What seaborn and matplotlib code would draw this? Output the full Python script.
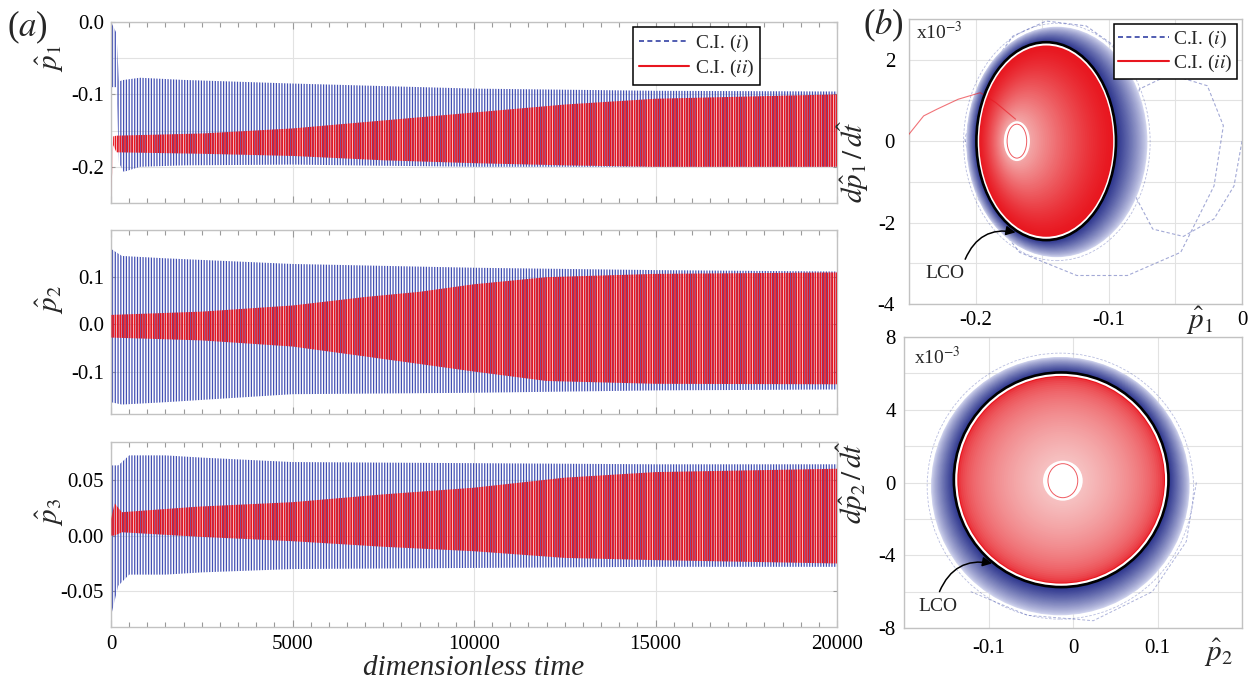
import matplotlib
matplotlib.use("Agg")
import numpy as np
import pandas as pd
import matplotlib.pyplot as plt
import matplotlib.colors as mcolors
from matplotlib.patches import Ellipse
from matplotlib.lines import Line2D
from matplotlib.ticker import MultipleLocator
import seaborn as sns

# ---------------- data ----------------
# (a) envelopes of the oscillating time series, C.I.(i) (blue) and C.I.(ii) (red)
t1_i = [0, 150, 220, 350, 800, 2000, 5000, 10000, 15000, 20000]
p1_i_hi = [0.0, -0.015, -0.082, -0.080, -0.077, -0.080, -0.085, -0.092, -0.095, -0.096]
p1_i_lo = [-0.09, -0.09, -0.195, -0.207, -0.200, -0.198, -0.197, -0.200, -0.200, -0.200]
t1_ii = [0, 60, 150, 2500, 5000, 7500, 10000, 12500, 15000, 20000]
p1_ii_hi = [-0.25, -0.158, -0.157, -0.154, -0.147, -0.136, -0.125, -0.114, -0.106, -0.100]
p1_ii_lo = [-0.25, -0.170, -0.180, -0.182, -0.185, -0.191, -0.195, -0.198, -0.200, -0.200]

t2_i = [0, 300, 1500, 5000, 10000, 15000, 20000]
p2_i_hi = [0.160, 0.145, 0.140, 0.128, 0.120, 0.115, 0.112]
p2_i_lo = [-0.165, -0.170, -0.165, -0.148, -0.145, -0.140, -0.138]
t2_ii = [0, 2500, 5000, 7000, 8500, 10000, 12000, 15000, 20000]
p2_ii_hi = [0.020, 0.027, 0.040, 0.058, 0.069, 0.085, 0.100, 0.107, 0.110]
p2_ii_lo = [-0.028, -0.034, -0.047, -0.068, -0.084, -0.100, -0.120, -0.126, -0.127]

t3_i = [0, 200, 500, 1500, 2500, 5000, 10000, 15000, 20000]
p3_i_hi = [0.063, 0.063, 0.072, 0.072, 0.070, 0.066, 0.065, 0.064, 0.064]
p3_i_lo = [-0.072, -0.045, -0.035, -0.035, -0.033, -0.030, -0.029, -0.028, -0.028]
t3_ii = [0, 100, 300, 2400, 5000, 7500, 10000, 12500, 15000, 20000]
p3_ii_hi = [0.015, 0.029, 0.021, 0.026, 0.030, 0.037, 0.043, 0.052, 0.057, 0.060]
p3_ii_lo = [0.000, 0.000, 0.003, -0.001, -0.005, -0.010, -0.014, -0.020, -0.022, -0.025]

# (b) phase portraits (velocity in units of 1e-3)
lco1_center = [-0.147, 0.0];  lco1_semi = [0.0524, 2.43]
ring1_center = [-0.139, -0.02]; ring1_semi = [0.068, 2.83]
hole1_center = [-0.169, 0.0]; hole1_semi = [0.0098, 0.49]
trans1_i_p = [0.0, -0.006, -0.021, -0.044, -0.067, -0.079, -0.086, -0.077, -0.054, -0.026, -0.014,
              -0.021, -0.046, -0.086, -0.124, -0.167, -0.198, -0.208, -0.195, -0.172, -0.147, -0.117, -0.089]
trans1_i_v = [0.0, -1.10, -1.91, -2.34, -2.16, -1.42, 0.0, 1.28, 1.64, 1.36, 0.38,
              -1.10, -2.73, -3.30, -3.30, -2.73, -1.42, 0.05, 1.53, 2.58, 2.95, 2.83, 2.18]
trans1_ii_p = [-0.251, -0.239, -0.229, -0.213, -0.1965, -0.185, -0.170]
trans1_ii_v = [0.13, 0.62, 0.785, 1.03, 1.19, 0.95, 0.54]
lco1_text = [-0.223, -3.26]; lco1_tail = [-0.2078, -2.9]; lco1_head = [-0.170, -2.24]

lco2_center = [-0.014, 0.15]; lco2_semi = [0.127, 5.9]
ring2_center = [-0.015, -0.2]; ring2_semi = [0.153, 7.1]
hole2_center = [-0.012, 0.1]; hole2_semi = [0.0235, 1.1]
trans2_i_p = [0.146, 0.134, 0.094, 0.024, -0.054, -0.121]
trans2_i_v = [0.0, -3.25, -6.0, -7.6, -7.3, -6.0]
lco2_text = [-0.16, -6.83]; lco2_tail = [-0.158, -6.0]; lco2_head = [-0.0957, -4.45]

legend_labels = [r"C.I. ($i$)", r"C.I. ($ii$)"]
ylabels_a = [r"$\hat{p}_1$", r"$\hat{p}_2$", r"$\hat{p}_3$"]
time_ticks = [0, 5000, 10000, 15000, 20000]
time_ticklabels = ["0", "5000", "10000", "15000", "20000"]

# ---------------- style ----------------
BLUE = "#3442a4"
BLUE_HATCH = "#4350b4"
BLUE_DARK = "#27308a"
BLUE_LIGHT = "#d3d6ef"
RED = "#e8161f"
PINK = "#f6c2c2"

sns.set_theme(style="whitegrid")
plt.rcParams.update({
    "font.family": ["Liberation Serif", "DejaVu Serif"],
    "mathtext.fontset": "stix",
    "axes.edgecolor": "#c2c2c2",
    "axes.linewidth": 1.0,
    "axes.facecolor": "white",
    "grid.color": "#e2e2e2",
    "grid.linewidth": 0.8,
    "xtick.labelsize": 15,
    "ytick.labelsize": 15,
    "xtick.labelcolor": "black",
    "ytick.labelcolor": "black",
})

fig = plt.figure(figsize=(12.6, 6.85), dpi=100)
W, H = 1260.0, 685.0


def add_ax(left, top, right, bottom):
    return fig.add_axes([left / W, 1 - bottom / H, (right - left) / W, (bottom - top) / H])


def band(ax, t, hi, lo, color, hatch, lw, z):
    plt.rcParams["hatch.linewidth"] = lw
    coll = ax.fill_between(t, lo, hi, facecolor="none", edgecolor=color,
                           hatch=hatch, linewidth=0, zorder=z)
    try:
        coll.set_hatch_linewidth(lw)
    except AttributeError:
        pass
    return coll


# ---------------- panel (a) ----------------
ax1 = add_ax(111, 22, 837, 203)
ax2 = add_ax(111, 230, 837, 414)
ax3 = add_ax(111, 442, 837, 627)

series = [
    (ax1, t1_i, p1_i_hi, p1_i_lo, t1_ii, p1_ii_hi, p1_ii_lo, (-0.25, 0.0),
     [0.0, -0.1, -0.2], ["0.0", "-0.1", "-0.2"], 0.05, 0.80),
    (ax2, t2_i, p2_i_hi, p2_i_lo, t2_ii, p2_ii_hi, p2_ii_lo, (-0.19, 0.2),
     [0.1, 0.0, -0.1], ["0.1", "0.0", "-0.1"], 0.1, 0.62),
    (ax3, t3_i, p3_i_hi, p3_i_lo, t3_ii, p3_ii_hi, p3_ii_lo, (-0.082, 0.084),
     [0.05, 0.0, -0.05], ["0.05", "0.00", "-0.05"], 0.05, 0.62),
]

for k, (ax, ti, hi_i, lo_i, tii, hi_ii, lo_ii, ylim, yt, ytl, ygrid, ylab_y) in enumerate(series):
    band(ax, ti, hi_i, lo_i, BLUE_HATCH, "||||||", 0.9, 2)
    band(ax, tii, hi_ii, lo_ii, RED, "|||||||", 1.2, 3)
    ax.set_xlim(0, 20000)
    ax.set_ylim(*ylim)
    ax.set_xticks(time_ticks)
    ax.xaxis.set_minor_locator(MultipleLocator(500))
    ax.set_yticks(yt, labels=ytl)
    ax.yaxis.set_minor_locator(MultipleLocator(ygrid))
    ax.grid(True, which="major", axis="both")
    ax.grid(True, which="minor", axis="y")
    ax.set_axisbelow(True)
    ax.tick_params(axis="x", which="both", direction="in", top=True, bottom=True,
                   color="#9a9a9a", width=0.8)
    ax.tick_params(axis="x", which="major", length=5, pad=6)
    ax.tick_params(axis="x", which="minor", length=3.5)
    ax.tick_params(axis="y", which="both", direction="in", left=True, right=True,
                   color="#9a9a9a", width=0.8, length=3, pad=5)
    ax.tick_params(axis="y", which="minor", length=0)
    if k < 2:
        ax.set_xticklabels([])
    else:
        ax.set_xticklabels(time_ticklabels)
    ax.set_ylabel(ylabels_a[k], fontsize=21, rotation=90)
    ax.yaxis.set_label_coords(-0.062, ylab_y)
    for s in ax.spines.values():
        s.set_color("#c2c2c2")

leg_handles = [Line2D([], [], color=BLUE, lw=1.2, ls=(0, (3, 2))),
               Line2D([], [], color=RED, lw=1.5)]
lg = ax1.legend(leg_handles, legend_labels, loc="upper left", bbox_to_anchor=(0.719, 0.972),
                borderaxespad=0, fontsize=14, frameon=True, fancybox=False, framealpha=1,
                edgecolor="black", handlelength=2.6, handletextpad=0.3, borderpad=0.3,
                labelspacing=0.2)
lg.get_frame().set_linewidth(1.1)
lg.set_zorder(10)

fig.text(474 / W, 1 - 668 / H, "dimensionless time", fontstyle="italic", fontsize=21,
         ha="center", va="center")
fig.text(27 / W, 1 - 27 / H, r"($\mathit{a}$)", fontsize=25, ha="center", va="center")
fig.text(883 / W, 1 - 25 / H, r"($\mathit{b}$)", fontsize=25, ha="center", va="center")


# ---------------- panel (b) ----------------
def lerp(a, b, k):
    return np.asarray(a, float) + (np.asarray(b, float) - np.asarray(a, float)) * k


def grad_ellipses(ax, c_out, s_out, c_in, s_in, col_out, col_in, n, z, gamma=1.0):
    co = np.array(mcolors.to_rgb(col_out))
    ci = np.array(mcolors.to_rgb(col_in))
    for k in np.linspace(0, 1, n):
        c = lerp(c_out, c_in, k)
        s = lerp(s_out, s_in, k)
        col = np.clip(lerp(co, ci, k ** gamma), 0, 1)
        ax.add_patch(Ellipse(tuple(c), 2 * s[0], 2 * s[1], facecolor=col,
                             edgecolor="none", zorder=z))


def phase(ax, lco_c, lco_s, ring_c, ring_s, hole_c, hole_s, red_gamma, red_mid):
    # blue ring (C.I. i) from the outer envelope to the LCO
    grad_ellipses(ax, ring_c, ring_s, lco_c, lco_s, BLUE_LIGHT, BLUE_DARK, 40, 2, gamma=0.8)
    ax.add_patch(Ellipse(tuple(ring_c), 2 * ring_s[0] * 1.03, 2 * ring_s[1] * 1.03,
                         facecolor="none", edgecolor=BLUE, lw=0.6, ls=(0, (3, 2)),
                         alpha=0.35, zorder=1.9))
    # red disc (C.I. ii) from the LCO inward to the central hole
    inner_s = [lco_s[0] * 0.975, lco_s[1] * 0.975]
    grad_ellipses(ax, lco_c, inner_s, hole_c, hole_s, RED, red_mid, 45, 3, gamma=red_gamma)
    ax.add_patch(Ellipse(tuple(hole_c), 2 * hole_s[0], 2 * hole_s[1],
                         facecolor="white", edgecolor="none", zorder=4))
    ax.add_patch(Ellipse(tuple(hole_c), 2 * hole_s[0] * 0.75, 2 * hole_s[1] * 0.85,
                         facecolor="none", edgecolor=RED, lw=0.7, alpha=0.7, zorder=4.5))
    # LCO: black orbit with white rim inside
    ax.add_patch(Ellipse(tuple(lco_c), 2 * lco_s[0] * 0.982, 2 * lco_s[1] * 0.982,
                         facecolor="none", edgecolor="white", lw=2.2, zorder=5))
    ax.add_patch(Ellipse(tuple(lco_c), 2 * lco_s[0], 2 * lco_s[1],
                         facecolor="none", edgecolor="black", lw=1.9, zorder=6))


def style_phase(ax, xlim, ylim, xt, xtl, yt, ytl, xminor, yminor, xpad, ypad):
    ax.set_xlim(*xlim)
    ax.set_ylim(*ylim)
    ax.set_xticks(xt, labels=xtl)
    ax.set_yticks(yt, labels=ytl)
    ax.xaxis.set_minor_locator(MultipleLocator(xminor))
    ax.yaxis.set_minor_locator(MultipleLocator(yminor))
    ax.grid(True, which="both")
    ax.set_axisbelow(True)
    ax.tick_params(which="both", length=0)
    ax.tick_params(axis="x", pad=xpad)
    ax.tick_params(axis="y", pad=ypad)
    for s in ax.spines.values():
        s.set_color("#c2c2c2")


axb1 = add_ax(909, 19, 1242, 304)
axb2 = add_ax(904, 337, 1242, 628)

# top phase portrait
df1 = pd.DataFrame({"p": trans1_i_p, "v": trans1_i_v})
sns.lineplot(data=df1, x="p", y="v", sort=False, estimator=None, ax=axb1, color=BLUE,
             lw=0.8, linestyle=(0, (3, 2)), alpha=0.45, legend=False, zorder=1.5)
phase(axb1, lco1_center, lco1_semi, ring1_center, ring1_semi, hole1_center, hole1_semi,
      1.3, "#f3a9a9")
df1r = pd.DataFrame({"p": trans1_ii_p, "v": trans1_ii_v})
sns.lineplot(data=df1r, x="p", y="v", sort=False, estimator=None, ax=axb1, color=RED,
             lw=0.8, alpha=0.6, legend=False, zorder=4.2)
style_phase(axb1, (-0.25, 0.0), (-4, 3), [-0.2, -0.1, 0.0], ["-0.2", "-0.1", "0"],
            [-4, -2, 0, 2], ["-4", "-2", "0", "2"], 0.05, 1, 5, 10)
axb1.set_xlabel("")
axb1.set_ylabel(r"$d\hat{p}_1\,/\,d\hat{t}$", fontsize=21)
axb1.yaxis.set_label_coords(-0.115, 0.5)
axb1.text(0.874, -0.058, r"$\hat{p}_1$", transform=axb1.transAxes, fontsize=21,
          ha="center", va="center")
axb1.text(0.02, 0.955, r"x10$^{-3}$", transform=axb1.transAxes, fontsize=14,
          ha="left", va="center")
axb1.annotate("", xy=tuple(lco1_head), xytext=tuple(lco1_tail),
              arrowprops=dict(arrowstyle="-|>", color="black", lw=1.1,
                              connectionstyle="arc3,rad=-0.4", mutation_scale=14,
                              shrinkA=0, shrinkB=0), zorder=8)
axb1.text(lco1_text[0], lco1_text[1], "LCO", fontsize=14, ha="center", va="center", zorder=8)
lg2 = axb1.legend(leg_handles, legend_labels, loc="upper right", bbox_to_anchor=(0.985, 0.982),
                  borderaxespad=0, fontsize=14, frameon=True, fancybox=False, framealpha=1,
                  edgecolor="black", handlelength=2.6, handletextpad=0.2, borderpad=0.25,
                  labelspacing=0.15)
lg2.get_frame().set_linewidth(1.1)
lg2.set_zorder(10)

# bottom phase portrait
df2 = pd.DataFrame({"p": trans2_i_p, "v": trans2_i_v})
sns.lineplot(data=df2, x="p", y="v", sort=False, estimator=None, ax=axb2, color=BLUE,
             lw=0.7, linestyle=(0, (3, 2)), alpha=0.4, legend=False, zorder=1.5)
phase(axb2, lco2_center, lco2_semi, ring2_center, ring2_semi, hole2_center, hole2_semi,
      0.45, PINK)
style_phase(axb2, (-0.2, 0.2), (-8, 8), [-0.1, 0.0, 0.1], ["-0.1", "0", "0.1"],
            [-8, -4, 0, 4, 8], ["-8", "-4", "0", "4", "8"], 0.1, 2, 8, 6)
axb2.set_xlabel("")
axb2.set_ylabel(r"$d\hat{p}_2\,/\,d\hat{t}$", fontsize=21)
axb2.yaxis.set_label_coords(-0.1, 0.5)
axb2.text(0.929, -0.085, r"$\hat{p}_2$", transform=axb2.transAxes, fontsize=21,
          ha="center", va="center")
axb2.text(0.03, 0.93, r"x10$^{-3}$", transform=axb2.transAxes, fontsize=14,
          ha="left", va="center")
axb2.annotate("", xy=tuple(lco2_head), xytext=tuple(lco2_tail),
              arrowprops=dict(arrowstyle="-|>", color="black", lw=1.1,
                              connectionstyle="arc3,rad=-0.4", mutation_scale=14,
                              shrinkA=0, shrinkB=0), zorder=8)
axb2.text(lco2_text[0], lco2_text[1], "LCO", fontsize=14, ha="center", va="center", zorder=8)

fig.savefig("out.png", dpi=100)
